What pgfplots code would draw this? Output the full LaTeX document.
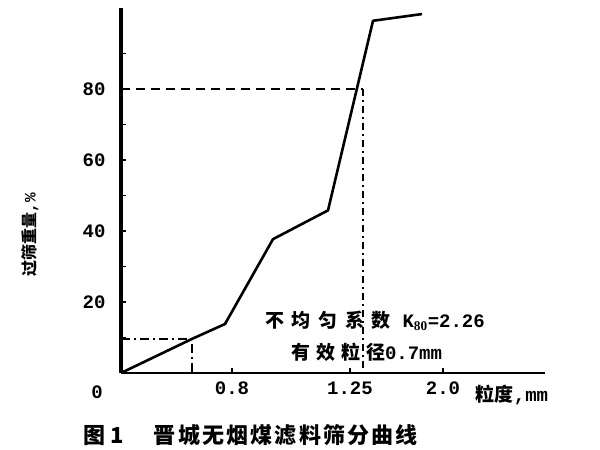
\documentclass[border=0pt]{standalone}
\usepackage{pgfplots}
\pgfplotsset{compat=1.18}
\usepackage{fontspec}
\setmainfont{Liberation Serif}
\newfontfamily\cjk{Noto Sans CJK SC}
\newfontfamily\num{Liberation Mono}

\begin{document}
\begin{tikzpicture}
\path[use as bounding box] (0,0) rectangle (600pt,450pt);
\begin{axis}[
    at={(121pt,77pt)}, anchor=south west,
    scale only axis,
    width=424pt, height=365pt,
    xmin=0, xmax=424,
    ymin=0, ymax=102.8,
    axis lines*=left,
    x axis line style={line width=2.6pt},
    y axis line style={line width=3.2pt},
    xtick={111,229,322},
    xticklabels={0.8,1.25,2.0},
    ytick={20,40,60,80},
    minor ytick={10,30,50,70,90},
    tick align=inside,
    major tick length=5pt, minor tick length=5pt,
    tick style={black, line width=1.2pt},
    /pgf/number format/assume math mode=true,
    ticklabel style={font=\num\bfseries\fontsize{19}{21}\selectfont},
    yticklabel style={xshift=-12pt},
    xticklabel style={yshift=-5pt},
    clip=false,
    ]
\addplot[black, line width=2.6pt, line join=round] coordinates {
    (0,0) (71,9.6) (104,13.8) (152,37.7) (207,45.8) (252,99.2) (301,101.1)};
\addplot[black, line width=2pt, dash pattern=on 9pt off 6pt] coordinates {(0,80) (242,80)};
\addplot[black, line width=2.6pt, dash pattern=on 7pt off 4pt on 2pt off 4pt] coordinates {(242,80) (242,0)};
\addplot[black, line width=2pt, dash pattern=on 9pt off 4pt on 2pt off 4pt] coordinates {(0,9.6) (71,9.6) (71,0)};
\node[font=\num\bfseries\fontsize{19}{21}\selectfont] at (axis cs:0,0) [xshift=-24pt, yshift=-19pt] {0};
\node[font=\cjk\bfseries\fontsize{19}{22}\selectfont] at (axis cs:254,14.6)
    {\addfontfeatures{LetterSpace=40}不均匀系数\ \num\bfseries K$_{\mathbf{80}}$=2.26};
\node[font=\cjk\bfseries\fontsize{19}{22}\selectfont] at (axis cs:246,5.9)
    {\addfontfeatures{LetterSpace=30}有效粒径\num\bfseries 0.7mm};
\node[font=\cjk\bfseries\fontsize{19}{22}\selectfont] at (axis cs:391,-6.2) {粒度\num\bfseries ,mm};
\end{axis}
\node[font=\cjk\bfseries\fontsize{16}{18}\selectfont, rotate=90] at (30pt,215pt) {过筛重量\num ,\%};
\node[font=\cjk\bfseries\fontsize{22}{24}\selectfont, anchor=west] at (80pt,15pt)
    {图\ 1\hspace{30pt}\addfontfeatures{LetterSpace=10}晋城无烟煤滤料筛分曲线};
\end{tikzpicture}
\end{document}
